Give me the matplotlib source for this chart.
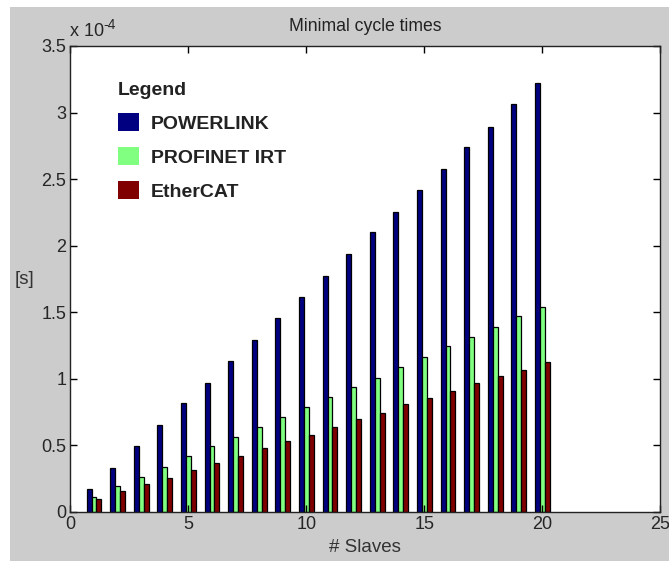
import numpy as np
import matplotlib
matplotlib.use("Agg")
import matplotlib.pyplot as plt
from matplotlib.patches import Rectangle
from matplotlib.ticker import FuncFormatter, MultipleLocator

plt.rcParams['font.family'] = ['Liberation Sans', 'DejaVu Sans']

# minimal cycle times per number of slaves (seconds)
slaves = np.arange(1, 21)
powerlink = np.array([0.172, 0.328, 0.492, 0.655, 0.818, 0.972, 1.133, 1.295, 1.46, 1.612,
                      1.775, 1.935, 2.10, 2.252, 2.415, 2.578, 2.74, 2.892, 3.062, 3.225]) * 1e-4
profinet = np.array([0.112, 0.192, 0.265, 0.338, 0.418, 0.492, 0.562, 0.642, 0.715, 0.785,
                     0.865, 0.938, 1.01, 1.088, 1.162, 1.245, 1.315, 1.388, 1.47, 1.54]) * 1e-4
ethercat = np.array([0.095, 0.155, 0.208, 0.258, 0.318, 0.368, 0.418, 0.48, 0.53, 0.582,
                     0.642, 0.695, 0.745, 0.808, 0.858, 0.91, 0.97, 1.02, 1.07, 1.13]) * 1e-4

series = [("POWERLINK", powerlink, "#000080"),
          ("PROFINET IRT", profinet, "#80ff80"),
          ("EtherCAT", ethercat, "#800000")]

W, H = 669, 561
fig = plt.figure(figsize=(W / 100, H / 100), dpi=100, facecolor="white")
# grey MATLAB window background
fig.patches.append(Rectangle((10 / W, 0), 1, (H - 7) / H, transform=fig.transFigure,
                             facecolor="#cccccc", edgecolor="none", zorder=-10))

ax = fig.add_axes([70.4 / W, 49 / H, 590 / W, 466 / H])
ax.set_facecolor("white")

bw = 0.21
offs = [-0.21, 0.0, 0.21]
for (name, vals, col), o in zip(series, offs):
    ax.bar(slaves + o, vals, width=bw, color=col, edgecolor="black", linewidth=0.9, label=name)

ax.set_xlim(0, 25)
ax.set_ylim(0, 3.5e-4)
ax.xaxis.set_major_locator(MultipleLocator(5))
ax.yaxis.set_major_locator(MultipleLocator(0.5e-4))
ax.yaxis.set_major_formatter(FuncFormatter(lambda v, _: f"{v * 1e4:g}"))
ax.tick_params(direction="in", length=5, width=1, top=True, right=True,
               labelsize=13, labelcolor="#262626", pad=3)
for s in ax.spines.values():
    s.set_linewidth(1.0)
    s.set_color("#222222")

# MATLAB style exponent label
ax.text(0.0, 1.012, "x 10", transform=ax.transAxes, fontsize=13, color="#262626",
        ha="left", va="bottom")
ax.text(0.056, 1.03, "-4", transform=ax.transAxes, fontsize=10, color="#262626",
        ha="left", va="bottom")

ax.set_title("Minimal cycle times", fontsize=12.7, color="#222222", pad=11)
ax.set_xlabel("# Slaves", fontsize=13.5, color="#333333", labelpad=4)
ax.set_ylabel("[s]", fontsize=13.5, color="#333333", rotation=0, ha="center", va="center")
ax.yaxis.set_label_coords(-0.077, 0.5)

leg = ax.legend(loc="upper left", bbox_to_anchor=(0.067, 0.94), frameon=False,
                prop={"size": 14, "weight": "bold"}, handlelength=1.1, handleheight=1.1,
                handletextpad=0.6, labelspacing=0.72, borderaxespad=0)
leg.set_title("Legend", prop={"size": 14, "weight": "bold"})
leg._legend_box.align = "left"
for h in leg.legend_handles:
    h.set_edgecolor("none")
for t in leg.get_texts():
    t.set_color("#222222")
leg.get_title().set_color("#222222")

fig.savefig("out.png", dpi=100, facecolor=fig.get_facecolor())
